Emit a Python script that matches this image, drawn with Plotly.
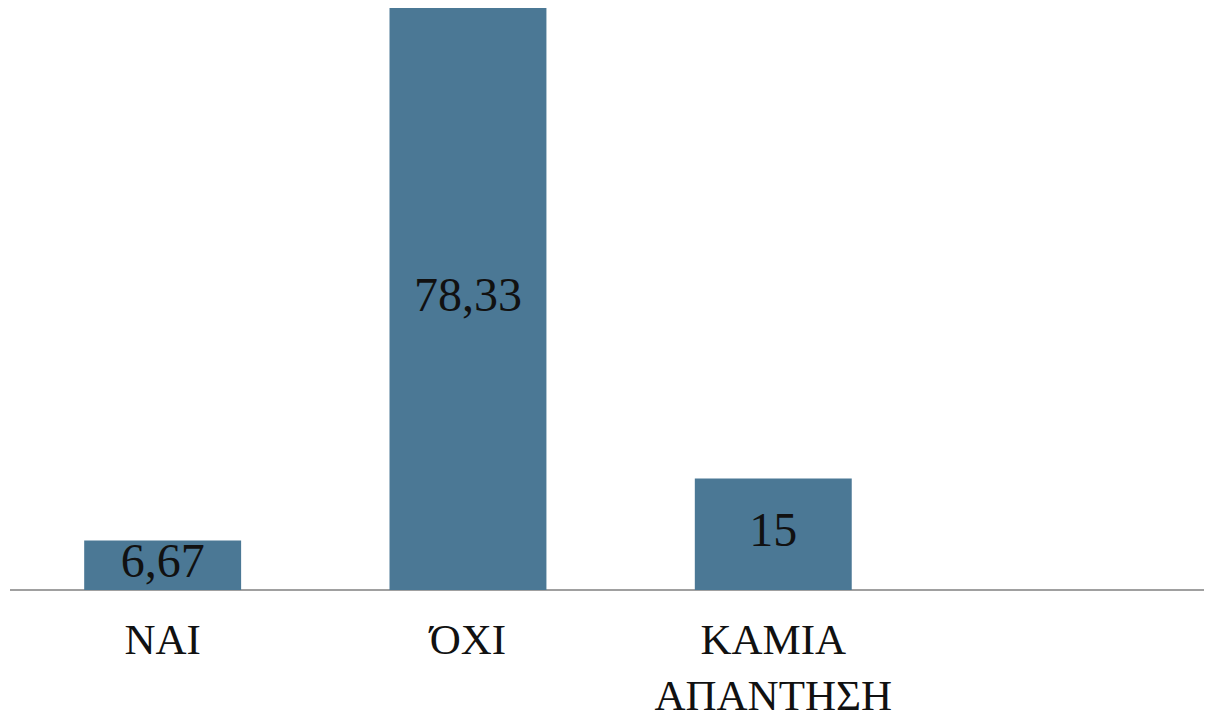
import plotly.graph_objects as go

categories = ["NAI", "ΌΧΙ", "ΚΑΜΙΑ<br>ΑΠΑΝΤΗΣΗ"]
values = [6.67, 78.33, 15]
labels = [f"{v:g}".replace(".", ",") for v in values]

bar_color = "#4B7895"
font_family = "Liberation Serif"

fig = go.Figure()
fig.add_trace(go.Bar(
    x=categories, y=values,
    marker=dict(color=bar_color, line=dict(width=0)),
    width=0.514,
    hoverinfo="skip",
))
fig.add_trace(go.Scatter(
    x=categories, y=[v / 2 for v in values],
    mode="text", text=labels,
    textposition="middle center",
    textfont=dict(family=font_family, size=48, color="#111111"),
    hoverinfo="skip",
))

fig.update_layout(
    width=1204, height=713,
    margin=dict(l=2, r=0, t=0, b=131, autoexpand=False),
    paper_bgcolor="white", plot_bgcolor="white",
    showlegend=False,
    xaxis=dict(
        type="category",
        range=[-0.5, 3.437],
        showgrid=False, zeroline=False,
        showline=False,
        ticks="", ticklen=0,
        ticklabelstandoff=20,
        automargin=False,
        tickfont=dict(family=font_family, size=43, color="#111111"),
    ),
    yaxis=dict(
        range=[0, 78.33],
        showgrid=False, zeroline=True, zerolinecolor="#A0A0A0", zerolinewidth=2,
        showticklabels=False, ticks="", showline=False,
        automargin=False,
    ),
)

fig.write_html("out.html")
